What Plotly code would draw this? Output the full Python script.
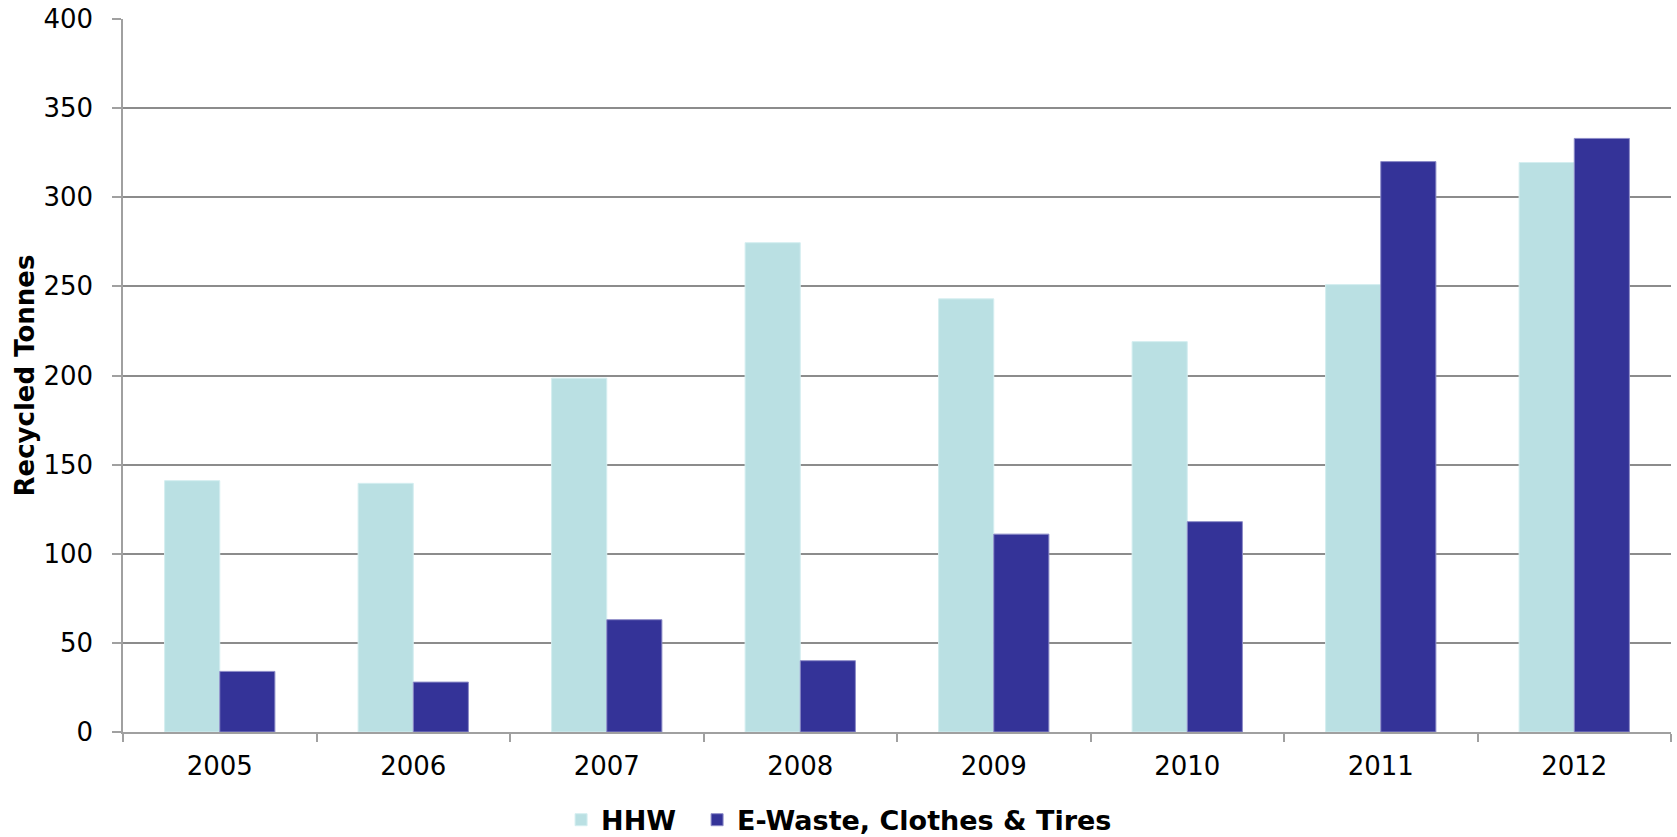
import plotly.graph_objects as go

# Recycled tonnage by year
years = ["2005", "2006", "2007", "2008", "2009", "2010", "2011", "2012"]
hhw = [141, 139.5, 198.5, 274.5, 243, 219, 251, 319.5]
ewaste = [34, 28, 63, 40, 111, 118, 320, 333]

y_ticks = [0, 50, 100, 150, 200, 250, 300, 350, 400]

W, H = 1677, 837
M_L, M_R, M_T, M_B = 123, 6, 19, 105

fig = go.Figure()
fig.add_trace(go.Bar(
    x=years, y=hhw, name="HHW", legendwidth=91,
    marker=dict(color="#bae0e3", line=dict(color="#d4eef0", width=1)),
))
fig.add_trace(go.Bar(
    x=years, y=ewaste, name="E-Waste, Clothes & Tires", legendwidth=400,
    marker=dict(color="#343398", line=dict(color="#8d8cc8", width=1)),
))

fig.update_layout(
    width=W, height=H,
    margin=dict(l=M_L, r=M_R, t=M_T, b=M_B, autoexpand=False),
    paper_bgcolor="white", plot_bgcolor="white",
    barmode="group", bargap=0.43, bargroupgap=0,
    font=dict(family="DejaVu Sans, Verdana, sans-serif", size=26, color="#000000"),
    showlegend=True,
    legend=dict(
        orientation="h", xref="paper", yref="paper",
        x=0.283, xanchor="left", y=-0.158, yanchor="bottom",
        font=dict(family="DejaVu Sans, Verdana, sans-serif", size=27,
                  color="#000000", weight="bold"),
        itemwidth=30, traceorder="normal", bgcolor="rgba(0,0,0,0)",
    ),
    xaxis=dict(
        type="category", showgrid=False,
        showline=True, linecolor="#a0a0a0", linewidth=1.5,
        ticks="outside", tickson="boundaries", ticklen=8,
        tickcolor="#a0a0a0", tickwidth=1.5,
        ticklabelstandoff=10,
        tickfont=dict(size=26, color="#000000"),
    ),
    yaxis=dict(
        range=[0, 400], tickvals=y_ticks, ticktext=[str(v) for v in y_ticks],
        showgrid=True, gridcolor="#8c8c8c", gridwidth=1.5,
        zeroline=False,
        showline=True, linecolor="#a0a0a0", linewidth=1.5,
        ticks="outside", ticklen=9, tickcolor="#a0a0a0", tickwidth=1.5,
        ticklabelstandoff=14,
        tickfont=dict(size=26, color="#000000"),
    ),
    annotations=[dict(
        text="<b>Recycled Tonnes</b>", textangle=-90,
        xref="paper", yref="paper",
        x=(24 - M_L) / (W - M_L - M_R), xanchor="center",
        y=0.5, yanchor="middle", showarrow=False,
        font=dict(family="DejaVu Sans, Verdana, sans-serif", size=26, color="#000000"),
    )],
)

fig.write_html("out.html")
